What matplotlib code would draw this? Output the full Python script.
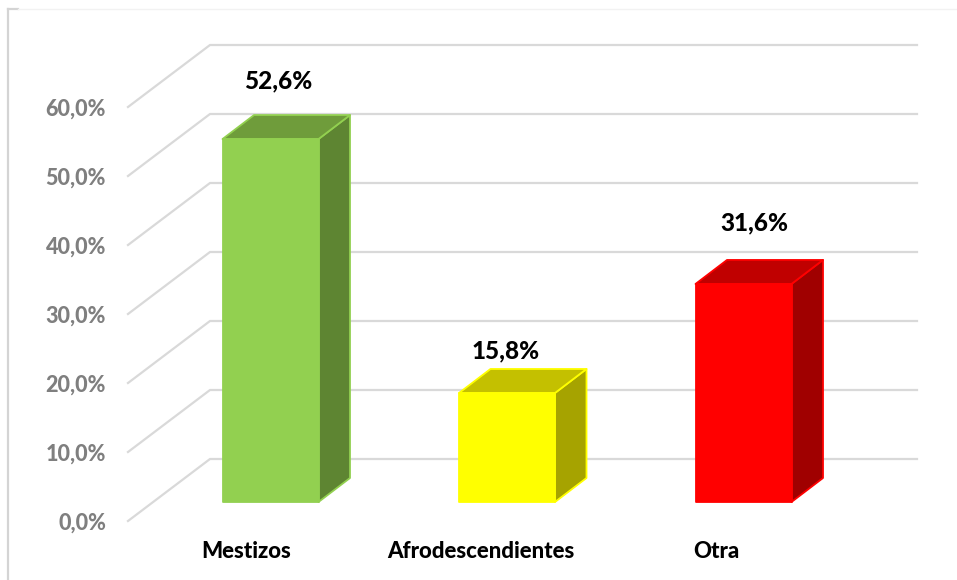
import matplotlib.pyplot as plt
from matplotlib.patches import Polygon

categories = ["Mestizos", "Afrodescendientes", "Otra"]
values = [52.6, 15.8, 31.6]
value_labels = ["52,6%", "15,8%", "31,6%"]
ticks = [0, 10, 20, 30, 40, 50, 60]
tick_labels = ["0,0%", "10,0%", "20,0%", "30,0%", "40,0%", "50,0%", "60,0%"]

front_colors = ["#92D050", "#FFFF00", "#FF0000"]
top_colors = ["#6F9C3B", "#C4C000", "#C00000"]
side_colors = ["#5E8532", "#A6A300", "#A00000"]

W, H = 957, 580
PX_X = 236.5  # px per category
PX_Y = 6.9  # px per percent
X0, Y0 = 270.5, 502  # pixel of first bar centre / value 0 on bar front

plt.rcParams["font.family"] = ["Lato", "DejaVu Sans"]
plt.rcParams["font.weight"] = 900


def dx(px):
    return px / PX_X


def dy(px):
    return px / PX_Y


fig = plt.figure(figsize=(W / 100, H / 100), dpi=100)
ax = fig.add_axes([0, 0, 1, 1])
ax.set_xlim(-X0 / PX_X, (W - X0) / PX_X)
ax.set_ylim(-(H - Y0) / PX_Y, Y0 / PX_Y)
ax.axis("off")

# chart frame, only partly visible in the screenshot
ax.plot([dx(8 - X0), dx(8 - X0)], [dy(Y0 - 579), dy(Y0 - 9)], color="#D4D4D4", lw=1.6)
ax.plot([dx(8 - X0), dx(18 - X0)], [dy(Y0 - 9), dy(Y0 - 9)], color="#D4D4D4", lw=1.6)
ax.plot([dx(18 - X0), dx(W - X0)], [dy(Y0 - 9), dy(Y0 - 9)], color="#F2F2F2", lw=1)

# floor/wall gridlines
x_left, x_wall, x_right = dx(128 - X0), dx(210 - X0), dx(917 - X0)
for t, lab in zip(ticks, tick_labels):
    ax.plot(
        [x_left, x_wall, x_right],
        [t + dy(-19), t + dy(43), t + dy(43)],
        color="#D9D9D9",
        lw=1.6,
        solid_joinstyle="miter",
        zorder=1,
    )
    ax.text(dx(106 - X0), t + dy(-21), lab, color="#7F7F7F", fontsize=15.5, ha="right", va="center")

# 3d bars
half = dx(48)
depth_x, depth_y = dx(31.5), dy(24)
label_off = [(7.5, 58), (-1.5, 42), (11, 61)]
for i, v in enumerate(values):
    l, r = i - half, i + half
    front = [(l, 0), (r, 0), (r, v), (l, v)]
    top = [(l, v), (r, v), (r + depth_x, v + depth_y), (l + depth_x, v + depth_y)]
    side = [(r, 0), (r + depth_x, depth_y), (r + depth_x, v + depth_y), (r, v)]
    for pts, c in [(side, side_colors[i]), (top, top_colors[i]), (front, front_colors[i])]:
        ax.add_patch(Polygon(pts, closed=True, facecolor=c, edgecolor=front_colors[i], lw=1.3, joinstyle="round", zorder=3))
    ax.text(i + dx(label_off[i][0]), v + dy(label_off[i][1]), value_labels[i], color="black", fontsize=17.5, ha="center", va="center", zorder=4)
    # category labels are spaced a bit tighter than the bars
    ax.text(i * 235 / PX_X - dx(24.5), dy(-50), categories[i], color="black", fontsize=16, ha="center", va="center", zorder=4)

plt.savefig("out.png", dpi=100)
